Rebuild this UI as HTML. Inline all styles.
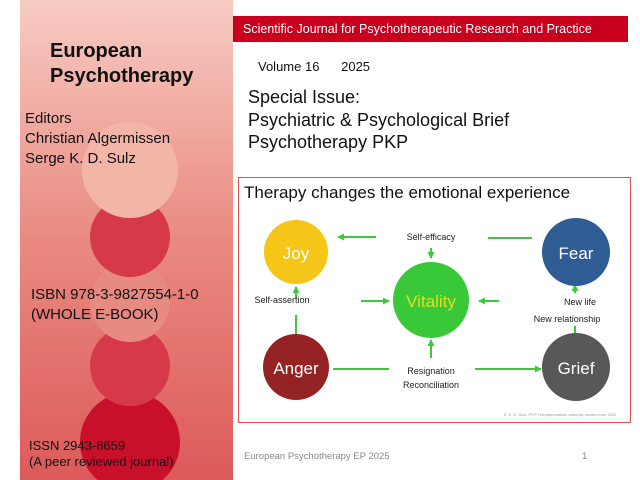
<!DOCTYPE html>
<html><head><meta charset="utf-8"><style>
body{margin:0;width:640px;height:480px;background:#fff;position:relative;overflow:hidden;font-family:"Liberation Sans",sans-serif}
.a{position:absolute;white-space:nowrap}
</style></head><body>
<div class="a" style="left:20px;top:0;width:213px;height:480px;background:linear-gradient(#f7cbc3,#e98a80 50%,#dc5a5a);overflow:hidden">
<svg width="213" height="480" style="position:absolute;left:0;top:0">
<circle cx="110" cy="442" r="50" fill="#c9102a"/>
<circle cx="110" cy="366" r="40" fill="#d63a48"/>
<circle cx="110" cy="302" r="40" fill="#e68a82"/>
<circle cx="110" cy="237" r="40" fill="#d63a48"/>
<circle cx="110" cy="170" r="48" fill="#f3b5a8"/>
</svg>
</div>
<div class="a" style="left:50px;top:39px;font-size:20px;font-weight:bold;line-height:25px;color:#111">European<br>Psychotherapy</div>
<div class="a" style="left:25px;top:109px;font-size:15px;line-height:20px;color:#111">Editors<br>Christian Algermissen<br>Serge K. D. Sulz</div>
<div class="a" style="left:31px;top:285px;font-size:15px;line-height:20px;color:#111">ISBN 978-3-9827554-1-0<br>(WHOLE E-BOOK)</div>
<div class="a" style="left:29px;top:438px;font-size:13px;line-height:16px;color:#111">ISSN 2943-8659<br>(A peer reviewed journal)</div>
<div class="a" style="left:233px;top:16px;width:395px;height:26px;background:#c8001e;color:#fff;font-size:12.5px;line-height:26px;padding-left:10px;box-sizing:border-box">Scientific Journal for Psychotherapeutic Research and Practice</div>
<div class="a" style="left:258px;top:59px;font-size:13px;color:#111">Volume 16&nbsp;&nbsp;&nbsp;&nbsp;&nbsp;&nbsp;2025</div>
<div class="a" style="left:248px;top:86px;font-size:18px;line-height:22.5px;color:#111">Special Issue:<br>Psychiatric &amp; Psychological Brief<br>Psychotherapy PKP</div>
<svg class="a" style="left:0;top:0" width="640" height="480">
<defs><marker id="m" markerUnits="userSpaceOnUse" markerWidth="7" markerHeight="7" refX="6" refY="3.5" orient="auto"><path d="M0,0L7,3.5L0,7z" fill="#3fc83f"/></marker></defs>
<rect x="238.5" y="177.5" width="392" height="245" fill="none" stroke="#e05050" stroke-width="1"/>
<text x="244" y="198" font-family="Liberation Sans,sans-serif" font-size="17" fill="#111">Therapy changes the emotional experience</text>
<g stroke="#3fc83f" stroke-width="2" fill="none" marker-end="url(#m)">
<line x1="376" y1="237" x2="338" y2="237"/>
<line x1="532" y1="238" x2="488" y2="238" marker-end="none"/>
<line x1="431" y1="248" x2="431" y2="258"/>
<line x1="361" y1="301" x2="389" y2="301"/>
<line x1="499" y1="301" x2="479" y2="301"/>
<line x1="296" y1="299" x2="296" y2="287"/>
<line x1="296" y1="334" x2="296" y2="315" marker-end="none"/>
<line x1="575" y1="293" x2="575" y2="285"/>
<line x1="575" y1="335" x2="575" y2="326" marker-end="none"/>
<line x1="431" y1="358" x2="431" y2="340"/>
<line x1="333" y1="369" x2="389" y2="369" marker-end="none"/>
<line x1="475" y1="369" x2="541" y2="369"/>
</g>
<circle cx="296" cy="252" r="32" fill="#f5c518"/>
<circle cx="576" cy="252" r="34" fill="#2e5c93"/>
<circle cx="431" cy="300" r="38" fill="#38c838"/>
<circle cx="296" cy="367" r="33" fill="#962323"/>
<circle cx="576" cy="367" r="34" fill="#585858"/>
<g font-family="Liberation Sans,sans-serif" text-anchor="middle">
<text x="296" y="259" font-size="17" fill="#fff">Joy</text>
<text x="576" y="259" font-size="17" fill="#fff">Fear</text>
<text x="431" y="307" font-size="17" fill="#e0e020">Vitality</text>
<text x="296" y="374" font-size="17" fill="#fff">Anger</text>
<text x="576" y="374" font-size="17" fill="#fff">Grief</text>
<g font-size="9" fill="#222">
<text x="431" y="240">Self-efficacy</text>
<text x="282" y="303">Self-assertion</text>
<text x="580" y="305">New life</text>
<text x="567" y="322">New relationship</text>
<text x="431" y="374">Resignation</text>
<text x="431" y="388">Reconciliation</text>
</g>
<text x="560" y="416" font-size="4" fill="#999">S. K. D. Sulz, PKP Therapiemanual, www.cip-medien.com 2022</text>
</g>
</svg>
<div class="a" style="left:244px;top:451px;font-size:9.5px;color:#888">European Psychotherapy EP 2025</div>
<div class="a" style="left:582px;top:451px;font-size:9.5px;color:#888">1</div>
</body></html>
